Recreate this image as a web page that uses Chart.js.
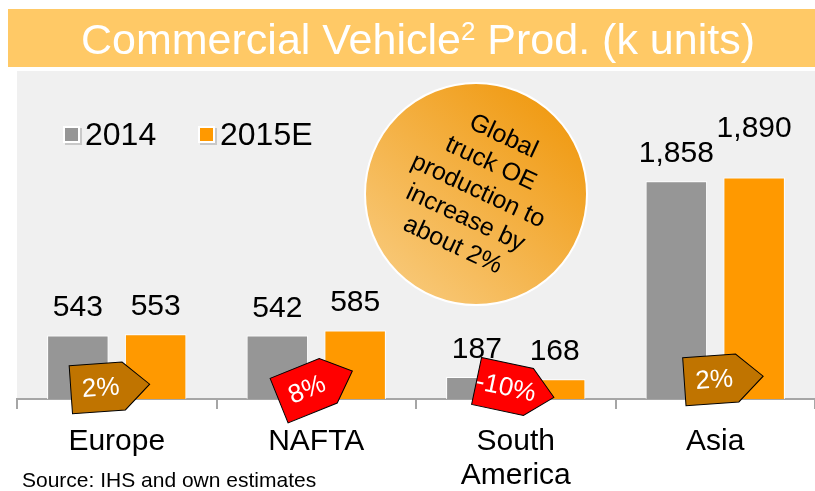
<!DOCTYPE html>
<html>
<head>
<meta charset="utf-8">
<script src="https://cdn.jsdelivr.net/npm/chart.js@4.4.1/dist/chart.umd.min.js"></script>
<style>
  html, body { margin: 0; padding: 0; background: #fff; }
  #wrap { position: relative; width: 815px; height: 491px; }
</style>
</head>
<body>
<div id="wrap"><canvas id="myChart"></canvas></div>
<script>
'use strict'

// data
const categories = ['Europe', 'NAFTA', ['South', 'America'], 'Asia'];
const seriesNames = ['2014', '2015E'];
const prod2014 = [543, 542, 187, 1858];
const prod2015 = [553, 585, 168, 1890];
const changeLabels = ['2%', '8%', '-10%', '2%'];
const titleMain = 'Commercial Vehicle';
const titleSup = '2';
const titleRest = ' Prod. (k units)';
const bubbleLines = ['Global', 'truck OE', 'production to', 'increase by', 'about 2%'];
const sourceText = 'Source: IHS and own estimates';

const FONT = "'Liberation Sans', Arial, sans-serif";
const grayColor = '#969696';
const orangeColor = '#FF9900';

// badge look per category: color, rotation, offset from category centre/baseline
const badgeStyle = [
  { color: '#C07400', rot: -4, dx: -7, dy: -12 },
  { color: '#FF0000', rot: -22, dx: -1, dy: -13 },
  { color: '#FF0000', rot: 12, dx: -1, dy: -10 },
  { color: '#C07400', rot: -4, dx: 8, dy: -20 }
];

function fmt(v){
  return v.toLocaleString('en-US');
}

const decorPlugin = {
  id: 'decor',
  beforeDraw(chart){
    const ctx = chart.ctx;
    const area = chart.chartArea;
    ctx.save();
    // title banner
    ctx.fillStyle = '#FFC966';
    ctx.fillRect(8, 9, 807, 58);
    ctx.fillStyle = '#ffffff';
    ctx.textBaseline = 'alphabetic';
    ctx.font = '43px ' + FONT;
    const w1 = ctx.measureText(titleMain).width;
    const w3 = ctx.measureText(titleRest).width;
    ctx.font = '26px ' + FONT;
    const w2 = ctx.measureText(titleSup).width;
    let x = 418 - (w1 + w2 + w3) / 2;
    ctx.font = '43px ' + FONT;
    ctx.textAlign = 'left';
    ctx.fillText(titleMain, x, 54);
    x += w1;
    ctx.font = '26px ' + FONT;
    ctx.fillText(titleSup, x, 40);
    x += w2;
    ctx.font = '43px ' + FONT;
    ctx.fillText(titleRest, x, 54);
    // plot background
    ctx.fillStyle = '#F0F0F0';
    ctx.fillRect(area.left, 71, area.right - area.left, area.bottom - 71);
    ctx.restore();
  },
  afterDatasetsDraw(chart){
    const ctx = chart.ctx;
    const xs = chart.scales.x;
    const area = chart.chartArea;
    ctx.save();

    // value labels
    ctx.font = '30px ' + FONT;
    ctx.fillStyle = '#000';
    ctx.textAlign = 'center';
    ctx.textBaseline = 'alphabetic';
    chart.data.datasets.forEach((ds, di) => {
      const meta = chart.getDatasetMeta(di);
      meta.data.forEach((bar, i) => {
        let lift = (di === 1 && i === 3) ? 22 : 0;
        ctx.fillText(fmt(ds.data[i]), bar.x, bar.y - 19 - lift);
      });
    });

    // legend
    const legendX = [64, 199];
    chart.data.datasets.forEach((ds, di) => {
      const lx = legendX[di];
      ctx.fillStyle = '#C8C8C8';
      ctx.fillRect(lx + 1, 128, 17, 17);
      ctx.fillStyle = '#fff';
      ctx.fillRect(lx - 1, 126, 17, 17);
      ctx.fillStyle = ds.backgroundColor;
      ctx.fillRect(lx + 1, 128, 13, 13);
      ctx.fillStyle = '#000';
      ctx.font = '32px ' + FONT;
      ctx.textAlign = 'left';
      ctx.textBaseline = 'middle';
      ctx.fillText(ds.label, lx + 21, 136);
    });

    // bubble
    const cx = 476, cy = 194, r = 111;
    const grad = ctx.createLinearGradient(cx + 80, cy - 90, cx - 80, cy + 90);
    grad.addColorStop(0, '#F09A12');
    grad.addColorStop(1, '#F8C877');
    ctx.beginPath();
    ctx.arc(cx, cy, r, 0, Math.PI * 2);
    ctx.fillStyle = grad;
    ctx.fill();
    ctx.lineWidth = 2;
    ctx.strokeStyle = '#fff';
    ctx.stroke();
    ctx.translate(478, 191);
    ctx.rotate(25 * Math.PI / 180);
    ctx.fillStyle = '#000';
    ctx.font = '25px ' + FONT;
    ctx.textAlign = 'center';
    ctx.textBaseline = 'middle';
    bubbleLines.forEach((t, i) => {
      ctx.fillText(t, 0, (i - 2) * 30);
    });
    ctx.setTransform(1, 0, 0, 1, 0, 0);

    // change badges
    categories.forEach((c, i) => {
      const st = badgeStyle[i];
      const bx = xs.getPixelForValue(i) + st.dx;
      const by = area.bottom + st.dy;
      ctx.save();
      ctx.translate(bx, by);
      ctx.rotate(st.rot * Math.PI / 180);
      ctx.beginPath();
      ctx.moveTo(-39, -24);
      ctx.lineTo(14, -24);
      ctx.lineTo(40, 0);
      ctx.lineTo(14, 24);
      ctx.lineTo(-39, 24);
      ctx.closePath();
      ctx.fillStyle = st.color;
      ctx.fill();
      ctx.lineWidth = 1;
      ctx.strokeStyle = '#000';
      ctx.stroke();
      ctx.fillStyle = '#fff';
      ctx.font = '26px ' + FONT;
      ctx.textAlign = 'center';
      ctx.textBaseline = 'middle';
      ctx.fillText(changeLabels[i], -9, 1);
      ctx.restore();
    });

    // source
    ctx.fillStyle = '#000';
    ctx.font = '21px ' + FONT;
    ctx.textAlign = 'left';
    ctx.textBaseline = 'alphabetic';
    ctx.fillText(sourceText, 22, 487);
    ctx.restore();
  }
};

const ctx = document.getElementById('myChart').getContext('2d');

const myChart = new Chart(ctx, {
  type: 'bar',
  data: {
    labels: categories,
    datasets: [{
      label: seriesNames[0],
      data: prod2014,
      backgroundColor: grayColor,
      borderColor: '#ffffff',
      borderWidth: 1
    },
    {
      label: seriesNames[1],
      data: prod2015,
      backgroundColor: orangeColor,
      borderColor: '#ffffff',
      borderWidth: 1
    }]
  },
  options: {
    responsive: true,
    maintainAspectRatio: false,
    animation: false,
    layout: { padding: { left: 17, right: 0, top: 71, bottom: 0 } },
    datasets: {
      bar: { categoryPercentage: 0.78, barPercentage: 0.79 }
    },
    plugins: {
      legend: { display: false },
      tooltip: { enabled: false }
    },
    scales: {
      x: {
        afterFit(scale){ scale.height = 92; },
        grid: {
          offset: true,
          drawOnChartArea: false,
          drawTicks: true,
          tickLength: 10,
          color: '#A6A6A6',
          lineWidth: 2
        },
        border: { display: true, color: '#A6A6A6', width: 2 },
        ticks: {
          color: '#000',
          padding: 16,
          maxRotation: 0,
          autoSkip: false,
          font: { family: FONT, size: 30, lineHeight: 1.12 }
        }
      },
      y: {
        display: false,
        min: 0,
        max: 2800
      }
    }
  },
  plugins: [decorPlugin]
});
</script>
</body>
</html>
